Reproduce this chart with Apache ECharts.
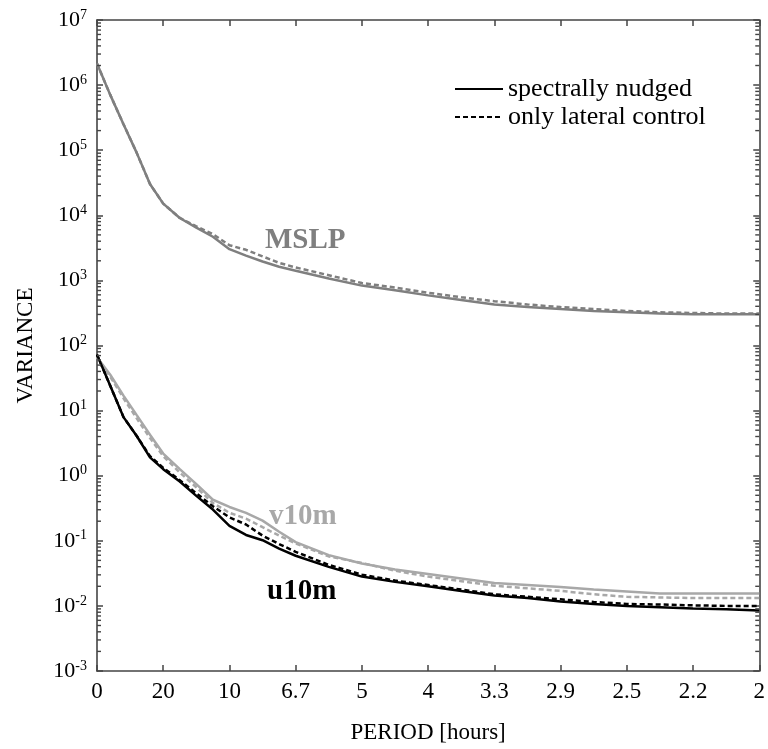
<!DOCTYPE html>
<html>
<head>
<meta charset="utf-8">
<script src="https://cdn.jsdelivr.net/npm/echarts@6/dist/echarts.min.js"></script>
<style>
html,body{margin:0;padding:0;background:#fff;}
#chart{width:768px;height:749px;}
</style>
</head>
<body>
<div id="chart"></div>
<script>
// Frequency index (0..10); tick labels give period in hours
const freqIndex = [0,0.2,0.4,0.6,0.8,1,1.25,1.5,1.75,2,2.25,2.5,2.75,3,3.5,4,4.5,5,5.5,6,6.5,7,7.5,8,8.5,9,9.5,10];
const periodLabels = ['0','20','10','6.7','5','4','3.3','2.9','2.5','2.2','2'];

const mslpNudged = [2.14e6,7.08e5,2.51e5,9.1e4,3.02e4,1.51e4,9.1e3,6.46e3,4.68e3,3.02e3,2.4e3,1.95e3,1.62e3,1.41e3,1.07e3,832,708,589,501,427,389,363,339,324,309,302,302,302];
const mslpLateral = [2.14e6,7.08e5,2.51e5,9.1e4,3.02e4,1.51e4,9.1e3,6.76e3,5.13e3,3.47e3,2.95e3,2.34e3,1.86e3,1.58e3,1.2e3,912,776,646,550,479,427,389,363,339,324,316,309,309];
const u10mNudged = [72.4,24.0,7.94,4.07,1.91,1.26,0.813,0.490,0.302,0.170,0.123,0.102,0.0759,0.0589,0.0398,0.0282,0.0234,0.0200,0.0170,0.0145,0.0132,0.0117,0.0107,0.0100,0.00955,0.00912,0.00891,0.00851];
const u10mLateral = [72.4,24.0,7.94,4.07,2.0,1.32,0.851,0.537,0.339,0.229,0.178,0.120,0.0891,0.0676,0.0427,0.0302,0.0245,0.0209,0.0178,0.0151,0.0138,0.0126,0.0115,0.0107,0.0105,0.0102,0.0100,0.0100];
const v10mNudged = [66.1,35.5,17.0,8.51,4.27,2.19,1.26,0.741,0.427,0.331,0.269,0.204,0.138,0.0955,0.0603,0.0447,0.0363,0.0309,0.0263,0.0224,0.0209,0.0195,0.0178,0.0166,0.0155,0.0155,0.0155,0.0155];
const v10mLateral = [66.1,33.1,15.5,7.59,3.80,2.0,1.12,0.661,0.380,0.269,0.219,0.162,0.120,0.0912,0.0575,0.0457,0.0347,0.0282,0.0240,0.0204,0.0186,0.0170,0.0151,0.0138,0.0135,0.0132,0.0132,0.0132];

const legendLabels = ['spectrally nudged', 'only lateral control'];
const curveLabels = ['MSLP', 'v10m', 'u10m'];

const minorTickValues = [];
for (let e = -3; e < 7; e++) { for (let m = 2; m <= 9; m++) minorTickValues.push(m * Math.pow(10, e)); }

const FONT = "'Liberation Serif', 'Times New Roman', serif";
const AXIS_COLOR = '#444';
const C_MSLP = '#7f7f7f', C_V = '#a8a8a8', C_U = '#000000';
const DASH = [5,3];

function pairs(ys){ return freqIndex.map((x,i)=>[x, ys[i]]); }
function lineSeries(name, ys, color, dashed){
  return {
    name: name, type: 'line', data: pairs(ys), symbol: 'none', smooth: false,
    lineStyle: {color: color, width: 2.5, type: dashed ? DASH : 'solid'},
    itemStyle: {color: color}, z: dashed ? 3 : 4, silent: true, animation: false
  };
}

const chart = echarts.init(document.getElementById('chart'), null, {renderer: 'canvas'});
const L = 97, R = 7, T = 20, B = 71;

function axisCommon(){
  return {
    axisLine: {show: true, onZero: false, lineStyle: {color: AXIS_COLOR, width: 1.6}},
    axisTick: {show: true, inside: true, length: 6, lineStyle: {color: AXIS_COLOR, width: 1.5}},
    splitLine: {show: false}
  };
}

const option = {
  animation: false,
  backgroundColor: '#fff',
  grid: {left: L, right: R, top: T, bottom: B},
  xAxis: [Object.assign(axisCommon(), {
    type: 'value', min: 0, max: 10, interval: 1, position: 'bottom',
    axisLabel: {fontFamily: FONT, fontSize: 23, color: '#000', margin: 9,
      formatter: v => periodLabels[Math.round(v)] || ''},
    name: 'PERIOD [hours]', nameLocation: 'middle', nameGap: 50,
    nameTextStyle: {fontFamily: FONT, fontSize: 23, color: '#000'}
  }), Object.assign(axisCommon(), {
    type: 'value', min: 0, max: 10, interval: 1, position: 'top',
    axisLabel: {show: false}
  })],
  yAxis: [Object.assign(axisCommon(), {
    type: 'log', logBase: 10, min: 1e-3, max: 1e7, interval: 1, position: 'left',
    axisLabel: {
      margin: 10, color: '#000',
      formatter: v => '{b|10}{s|' + Math.round(Math.log10(v)) + '}',
      rich: {
        b: {fontFamily: FONT, fontSize: 22, color: '#000', lineHeight: 24},
        s: {fontFamily: FONT, fontSize: 14, color: '#000', verticalAlign: 'top', lineHeight: 14}
      }
    },
    name: 'VARIANCE', nameLocation: 'middle', nameGap: 60, nameRotate: 90,
    nameTextStyle: {fontFamily: FONT, fontSize: 23, color: '#000'}
  }), Object.assign(axisCommon(), {
    type: 'log', logBase: 10, min: 1e-3, max: 1e7, interval: 1, position: 'right',
    axisLabel: {show: false}
  })],
  series: [
    lineSeries('MSLP lateral', mslpLateral, C_MSLP, true),
    lineSeries('MSLP nudged', mslpNudged, C_MSLP, false),
    lineSeries('v10m lateral', v10mLateral, C_V, true),
    lineSeries('v10m nudged', v10mNudged, C_V, false),
    lineSeries('u10m lateral', u10mLateral, C_U, true),
    lineSeries('u10m nudged', u10mNudged, C_U, false)
  ]
};
chart.setOption(option);

const g = [];
// Minor ticks (2..9 per decade), positioned through the y axis scale
const xLeft = chart.convertToPixel({xAxisIndex: 0}, 0);
const xRight = chart.convertToPixel({xAxisIndex: 0}, 10);
minorTickValues.forEach(v => {
  const y = chart.convertToPixel({yAxisIndex: 0}, v);
  if (!isFinite(y)) return;
  const st = {stroke: AXIS_COLOR, lineWidth: 1.4};
  g.push({type: 'line', silent: true, z: 100, shape: {x1: xLeft, y1: y, x2: xLeft + 4, y2: y}, style: st});
  g.push({type: 'line', silent: true, z: 100, shape: {x1: xRight - 4, y1: y, x2: xRight, y2: y}, style: st});
});

// Legend
const legY = [89, 117];
g.push({type: 'line', silent: true, shape: {x1: 455, y1: legY[0], x2: 503, y2: legY[0]}, style: {stroke: '#000', lineWidth: 2}});
g.push({type: 'line', silent: true, shape: {x1: 455, y1: legY[1], x2: 503, y2: legY[1]}, style: {stroke: '#000', lineWidth: 2, lineDash: DASH}});
legendLabels.forEach((t, i) => {
  g.push({type: 'text', silent: true, x: 508, y: legY[i], style: {text: t, fontFamily: FONT, fontSize: 26, fill: '#000', verticalAlign: 'middle', align: 'left'}});
});

// Curve labels
const labelPos = [[265, 226, C_MSLP], [269, 502, C_V], [267, 577, C_U]];
curveLabels.forEach((t, i) => {
  g.push({type: 'text', silent: true, x: labelPos[i][0], y: labelPos[i][1],
    style: {text: t, fontFamily: FONT, fontWeight: 'bold', fontSize: 29, fill: labelPos[i][2]}});
});
chart.setOption({graphic: g});
</script>
</body>
</html>
